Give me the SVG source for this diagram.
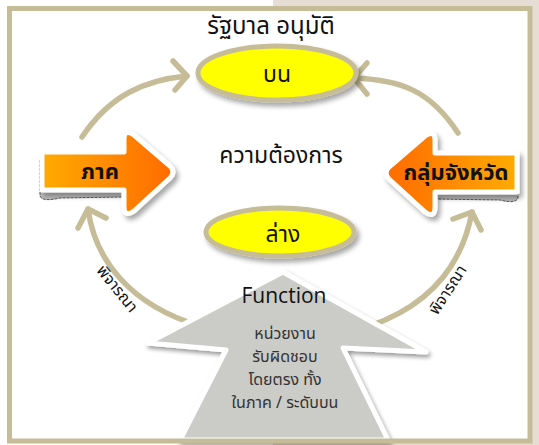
<svg xmlns="http://www.w3.org/2000/svg" width="539" height="445" viewBox="0 0 539 445">
<defs>
<style>
.th{font-family:"Noto Sans Thai","Leelawadee UI",Tahoma,"Noto Sans","DejaVu Sans",sans-serif;fill:#111;text-anchor:middle}
.conn{fill:none;stroke:#c6bd98;stroke-width:5.5;stroke-linecap:round;stroke-linejoin:round}
.ell{fill:#ffff00;stroke:#c6bd98;stroke-width:5}
.orange{stroke:#ffffff;stroke-width:5;stroke-linejoin:round}
.fn{font-size:16px;fill:#333}
</style>
<linearGradient id="gL" x1="0" y1="0" x2="1" y2="0"><stop offset="0" stop-color="#ffab00"/><stop offset="1" stop-color="#ff6a00"/></linearGradient>
<linearGradient id="gR" x1="1" y1="0" x2="0" y2="0"><stop offset="0" stop-color="#ffab00"/><stop offset="1" stop-color="#ff6a00"/></linearGradient>
<linearGradient id="curl" x1="0" y1="0" x2="0" y2="1"><stop offset="0" stop-color="#ffffff"/><stop offset="1" stop-color="#bdbdbd"/></linearGradient>
<filter id="sh" x="-20%" y="-20%" width="140%" height="160%"><feGaussianBlur in="SourceAlpha" stdDeviation="2.5"/><feOffset dx="3" dy="4" result="b"/><feComponentTransfer><feFuncA type="linear" slope="0.35"/></feComponentTransfer><feMerge><feMergeNode/><feMergeNode in="SourceGraphic"/></feMerge></filter>
<filter id="glow" x="-10%" y="-10%" width="120%" height="120%"><feGaussianBlur in="SourceAlpha" stdDeviation="2"/><feOffset dx="2" dy="3"/><feComponentTransfer><feFuncA type="linear" slope="0.4"/></feComponentTransfer><feMerge><feMergeNode/><feMergeNode in="SourceGraphic"/></feMerge></filter>
</defs>
<rect x="0" y="0" width="539" height="445" fill="#ffffff"/>
<rect x="273" y="0" width="266" height="445" fill="#e6ddd4"/>
<rect x="9.5" y="8.5" width="520.5" height="432.5" fill="#ffffff"/>

<g id="connectors">
<path class="conn" d="M82,137 C110,95 145,80 187,76"/>
<path class="conn" d="M173,61 L187,76 L175,90"/>
<path class="conn" d="M458,133 C430,90 400,80 355,78"/>
<path class="conn" d="M367,63 L354,78 L367,94"/>
<path class="conn" d="M88,209 C95,260 130,305 200,326"/>
<path class="conn" d="M78,228 L88,209 L106,218"/>
<path class="conn" d="M472,212 C462,265 430,305 370,326"/>
<path class="conn" d="M453,219 L472,212 L481,230"/>
<text class="th" font-size="16" transform="translate(117,289) rotate(51)" y="5">พิจารณา</text>
<text class="th" font-size="16" transform="translate(448,290) rotate(-57)" y="5">พิจารณา</text>
</g>

<g id="function">
<polygon points="283,272 426,352 343,348 388,440 180,440 226,350 148,343" fill="#cbcbc7" stroke="#ffffff" stroke-width="5" stroke-linejoin="round" filter="url(#glow)"/>
<text class="th" font-size="21" x="284" y="303" style="font-family:'Open Sans','Noto Sans',sans-serif">Function</text>
<text class="th fn" x="285" y="339">หน่วยงาน</text>
<text class="th fn" x="285" y="362">รับผิดชอบ</text>
<text class="th fn" x="285" y="385">โดยตรง ทั้ง</text>
<text class="th fn" x="285" y="408">ในภาค / ระดับบน</text>
</g>

<g id="top">
<text class="th" font-size="24" x="271" y="34">รัฐบาล อนุมัติ</text>
<ellipse class="ell" cx="277" cy="73" rx="79" ry="27" filter="url(#sh)"/>
<text class="th" font-size="23" x="277" y="82">บน</text>
</g>

<g id="need">
<text class="th" font-size="23" x="281" y="163">ความต้องการ</text>
</g>

<g id="bottom">
<ellipse class="ell" cx="280" cy="232" rx="74" ry="24" filter="url(#sh)"/>
<text class="th" font-size="23" x="283" y="242">ล่าง</text>
</g>

<g id="region">
<path d="M40,160 L40,196 Q42,202 60,198 L124,197 L124,168 Z" fill="url(#curl)" stroke="#333" stroke-width="0.8" stroke-dasharray="3,1"/>
<path class="orange" d="M42,152 L124,152 L124,140 Q124,128 134,135 L170,166 Q176,172 170,178 L134,211 Q124,218 124,206 L124,190 L42,190 Z" fill="url(#gL)" filter="url(#sh)"/>
<text class="th" font-size="22" font-weight="bold" x="100" y="179">ภาค</text>
</g>

<g id="province">
<path d="M518,160 L518,198 Q516,204 500,200 L433,199 L433,170 Z" fill="url(#curl)" stroke="#333" stroke-width="0.8" stroke-dasharray="3,1"/>
<path class="orange" d="M517,153 L435,153 L435,141 Q435,129 425,136 L389,167 Q383,173 389,179 L425,212 Q435,219 435,207 L435,192 L517,192 Z" fill="url(#gR)" filter="url(#sh)"/>
<text class="th" font-size="22" font-weight="bold" x="456" y="180">กลุ่มจังหวัด</text>
</g>

<rect x="9.5" y="8.5" width="520.5" height="432.5" fill="none" stroke="#c6bd98" stroke-width="5"/>
</svg>
